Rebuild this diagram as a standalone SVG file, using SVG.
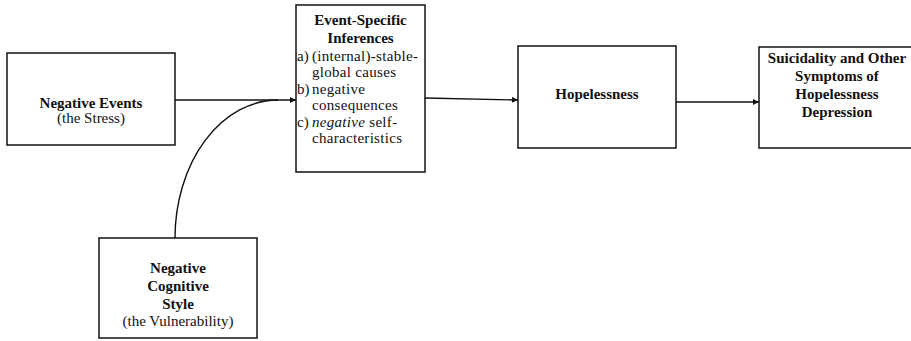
<svg xmlns="http://www.w3.org/2000/svg" width="911" height="341" viewBox="0 0 911 341">
  <style>
    .box { fill: #ffffff; stroke: #111111; stroke-width: 1.5; }
    .edge { fill: none; stroke: #111111; stroke-width: 1.4; }
    text { font-family: "Liberation Serif", "Times New Roman", serif; font-size: 15px; fill: #111111; }
    .b { font-weight: bold; }
    .c { text-anchor: middle; }
    .it { font-style: italic; }
  </style>
  <defs>
    <marker id="arrow" viewBox="0 0 10 10" refX="10" refY="5" markerWidth="7" markerHeight="6" markerUnits="userSpaceOnUse" orient="auto">
      <path d="M0,0 L10,5 L0,10 Z" fill="#111111"/>
    </marker>
  </defs>

  <rect width="911" height="341" fill="#ffffff"/>

  <g id="connectors">
    <path class="edge" d="M175,100 L296,100" marker-end="url(#arrow)"/>
    <path class="edge" d="M175,238 A103,138 0 0 1 278,100"/>
    <path class="edge" d="M425,98 L518,100" marker-end="url(#arrow)"/>
    <path class="edge" d="M676,102 L759,102" marker-end="url(#arrow)"/>
  </g>

  <g id="negative-events">
    <rect class="box" x="7" y="53" width="168" height="92"/>
    <text class="b c" x="91" y="108">Negative Events</text>
    <text class="c" x="91" y="123">(the Stress)</text>
  </g>

  <g id="event-specific-inferences">
    <rect class="box" x="296" y="5" width="129" height="167"/>
    <text class="b c" x="360.5" y="25">Event-Specific</text>
    <text class="b c" x="360.5" y="43">Inferences</text>
    <text x="297" y="61">a)</text>
    <text x="312" y="61" letter-spacing="0.3">(internal)-stable-</text>
    <text x="312" y="77" letter-spacing="0.3">global causes</text>
    <text x="297" y="94">b)</text>
    <text x="312" y="94" letter-spacing="0.3">negative</text>
    <text x="312" y="110" letter-spacing="0.3">consequences</text>
    <text x="297" y="127">c)</text>
    <text x="312" y="127" letter-spacing="0.3"><tspan class="it">negative</tspan> self-</text>
    <text x="312" y="143" letter-spacing="0.3">characteristics</text>
  </g>

  <g id="hopelessness">
    <rect class="box" x="518" y="46" width="158" height="102"/>
    <text class="b c" x="597" y="99">Hopelessness</text>
  </g>

  <g id="suicidality">
    <rect class="box" x="759" y="47" width="160" height="101"/>
    <text class="b c" x="837" y="63">Suicidality and Other</text>
    <text class="b c" x="837" y="81">Symptoms of</text>
    <text class="b c" x="837" y="99">Hopelessness</text>
    <text class="b c" x="837" y="117">Depression</text>
  </g>

  <g id="cognitive-style">
    <rect class="box" x="99" y="238" width="158" height="100"/>
    <text class="b c" x="178" y="273">Negative</text>
    <text class="b c" x="178" y="291">Cognitive</text>
    <text class="b c" x="178" y="309">Style</text>
    <text class="c" x="178" y="326">(the Vulnerability)</text>
  </g>
</svg>
